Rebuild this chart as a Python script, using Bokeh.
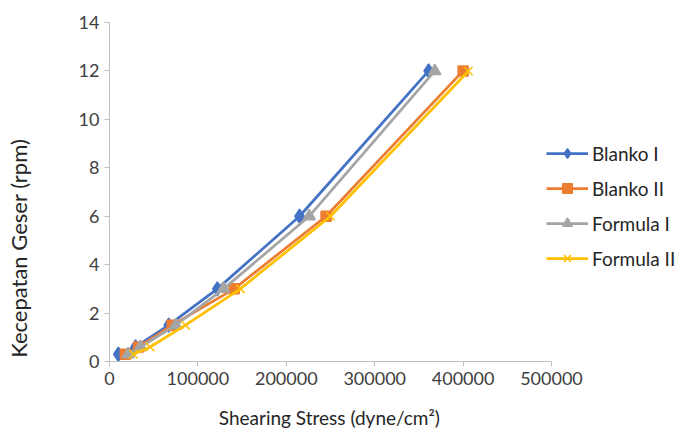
from bokeh.plotting import figure
from bokeh.models import Legend, LegendItem, Range1d, FixedTicker
from bokeh.embed import file_html
from bokeh.resources import INLINE

speed = [0.3, 0.6, 1.5, 3, 6, 12]
blanko1 = [10000, 29500, 67000, 122000, 215000, 361000]
blanko2 = [18000, 33000, 71000, 141000, 245000, 400000]
formula1 = [21000, 35000, 75000, 129000, 226000, 368000]
formula2 = [27000, 46000, 86000, 148000, 250000, 406000]
x_ticks = [0, 100000, 200000, 300000, 400000, 500000]
y_ticks = [0, 2, 4, 6, 8, 10, 12, 14]

FONT = "Lato"
NBSP = "\u00a0"
W, H = 680, 435
LEFT, RIGHT, TOP, BOTTOM = 109, 0, 22, 74
AXIS_PX = 442  # pixels spanned by 0..500000
x_end = (W - LEFT - RIGHT) / AXIS_PX * 500000

p = figure(width=W, height=H, output_backend="svg", toolbar_location=None,
           x_range=Range1d(0, x_end), y_range=Range1d(0, 14),
           min_border_left=LEFT, min_border_right=RIGHT, min_border_top=TOP, min_border_bottom=BOTTOM)
p.outline_line_color = None
p.xgrid.visible = False
p.ygrid.visible = False

for ax in (p.xaxis, p.yaxis):
    ax.axis_line_color = "#BFBFBF"
    ax.major_tick_line_color = "#BFBFBF"
    ax.minor_tick_line_color = None
    ax.major_tick_in = 0
    ax.major_tick_out = 5
    ax.major_label_text_font = FONT
    ax.major_label_text_font_size = "18px"
    ax.major_label_text_color = "#404040"
    ax.axis_label_text_font = FONT
    ax.axis_label_text_font_style = "normal"
    ax.axis_label_text_color = "#262626"
p.xaxis.bounds = (0, 500000)
p.xaxis.ticker = FixedTicker(ticks=x_ticks)
p.yaxis.ticker = FixedTicker(ticks=y_ticks)
p.xaxis.formatter.use_scientific = False

# trailing no-break spaces shift the titles to where the reference places them
p.xaxis.axis_label = "Shearing Stress (dyne/cm\u00b2)" + NBSP * 27
p.xaxis.axis_label_text_font_size = "19px"
p.xaxis.axis_label_standoff = 18
p.yaxis.axis_label = "Kecepatan Geser (rpm)" + NBSP * 20
p.yaxis.axis_label_text_font_size = "22px"
p.yaxis.axis_label_standoff = 44

series = [
    ("Blanko I", blanko1, "#4472C4", "diamond", 14),
    ("Blanko II", blanko2, "#ED7D31", "square", 10),
    ("Formula I", formula1, "#A5A5A5", "triangle", 12),
    ("Formula II", formula2, "#FFC000", "x", 12),
]
items = []
for name, xs, col, mk, sz in series:
    l = p.line(xs, speed, line_color=col, line_width=2.75)
    m = p.scatter(xs, speed, marker=mk, size=sz, fill_color=col, line_color=col, line_width=1.5)
    items.append(LegendItem(label=name, renderers=[l, m]))

legend = Legend(items=items, location=(437, 91), orientation="vertical",
                label_text_font=FONT, label_text_font_size="19px", label_text_color="#262626",
                glyph_width=42, glyph_height=24, spacing=11, label_standoff=4,
                background_fill_alpha=0, border_line_color=None, padding=2, margin=0)
p.add_layout(legend, "center")

open("out.html", "w").write(file_html(p, INLINE))
